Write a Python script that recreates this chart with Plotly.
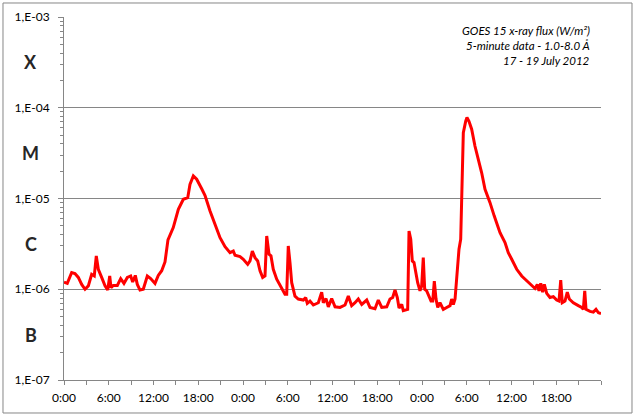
import plotly.graph_objects as go

# GOES 15 X-ray flux (1.0-8.0 Å), 17-19 July 2012; time in hours since 17 July 00:00
hours = [
    0.0, 0.44, 1.03, 1.47, 1.92, 2.37, 2.82, 3.26, 3.71, 4.06,
    4.33, 4.6, 5.05, 5.5, 5.86, 6.13, 6.3, 6.61, 7.15, 7.6,
    8.04, 8.49, 8.94, 9.21, 9.56, 9.83, 10.19, 10.63, 11.17, 11.62,
    12.2, 12.64, 13.1, 13.54, 13.94, 14.21, 14.65, 15.33, 16.0, 16.59,
    16.89, 17.34, 17.79, 18.46, 18.91, 19.58, 20.25, 20.92, 21.59, 22.26,
    22.7, 22.93, 23.6, 24.04, 24.63, 24.94, 25.25, 25.61, 25.97, 26.28,
    26.64, 26.95, 27.18, 27.49, 27.75, 28.06, 28.52, 29.19, 29.63, 29.86,
    30.07, 30.3, 30.53, 30.97, 31.41, 32.09, 32.41, 32.62, 32.98, 33.43,
    34.1, 34.55, 34.77, 35.13, 35.44, 35.89, 36.34, 37.01, 37.68, 38.12,
    38.57, 39.02, 39.46, 39.92, 40.59, 41.03, 41.7, 42.14, 42.6, 43.27,
    43.71, 44.07, 44.38, 44.69, 44.92, 45.28, 45.49, 46.08, 46.26, 46.49,
    46.7, 46.93, 47.16, 47.42, 47.73, 47.96, 48.17, 48.36, 48.63, 48.85,
    49.21, 49.44, 49.65, 49.88, 50.11, 50.41, 50.86, 51.31, 51.76, 51.98,
    52.2, 52.43, 52.65, 52.96, 53.19, 53.32, 53.46, 53.54, 53.86, 54.03,
    54.3, 54.66, 55.1, 55.55, 56.0, 56.45, 57.12, 57.69, 58.46, 59.13,
    59.57, 60.03, 60.7, 61.37, 62.04, 62.71, 63.15, 63.46, 63.69, 63.92,
    64.18, 64.4, 64.72, 65.16, 65.61, 66.06, 66.37, 66.6, 66.81, 67.17,
    67.48, 67.75, 68.29, 68.96, 69.41, 69.63, 69.82, 69.99, 70.53, 70.97,
    71.33, 71.66, 72.0,
]

flux = [
    1.2e-6, 1.16e-6, 1.53e-6, 1.49e-6, 1.35e-6, 1.13e-6, 1.0e-6, 1.09e-6, 1.46e-6, 1.4e-6,
    2.33e-6, 1.66e-6, 1.35e-6, 1.09e-6, 0.98e-6, 1.4e-6, 1.04e-6, 1.1e-6, 1.1e-6, 1.31e-6,
    1.16e-6, 1.35e-6, 1.4e-6, 1.2e-6, 1.42e-6, 1.13e-6, 0.98e-6, 1.0e-6, 1.4e-6, 1.31e-6,
    1.16e-6, 1.42e-6, 1.6e-6, 2.0e-6, 3.5e-6, 4.0e-6, 4.78e-6, 7.6e-6, 9.8e-6, 1.02e-5,
    1.43e-5, 1.77e-5, 1.63e-5, 1.28e-5, 1.08e-5, 7.3e-6, 5.2e-6, 3.7e-6, 2.95e-6, 2.53e-6,
    2.63e-6, 2.37e-6, 2.29e-6, 2.14e-6, 1.88e-6, 2.05e-6, 2.63e-6, 2.23e-6, 2.05e-6, 1.6e-6,
    1.35e-6, 1.4e-6, 3.86e-6, 2.43e-6, 2.33e-6, 1.66e-6, 1.29e-6, 1.0e-6, 0.88e-6, 0.88e-6,
    3.0e-6, 1.97e-6, 1.18e-6, 0.84e-6, 0.78e-6, 0.76e-6, 0.81e-6, 0.7e-6, 0.74e-6, 0.67e-6,
    0.71e-6, 0.93e-6, 0.71e-6, 0.79e-6, 0.64e-6, 0.79e-6, 0.64e-6, 0.63e-6, 0.67e-6, 0.84e-6,
    0.66e-6, 0.71e-6, 0.78e-6, 0.68e-6, 0.76e-6, 0.63e-6, 0.61e-6, 0.76e-6, 0.63e-6, 0.64e-6,
    0.78e-6, 0.81e-6, 0.98e-6, 0.81e-6, 0.62e-6, 0.68e-6, 0.58e-6, 0.6e-6, 4.38e-6, 3.56e-6,
    2.05e-6, 1.97e-6, 1.46e-6, 1.18e-6, 0.96e-6, 1.09e-6, 2.23e-6, 1.0e-6, 0.96e-6, 0.88e-6,
    0.74e-6, 0.74e-6, 1.23e-6, 0.78e-6, 0.63e-6, 0.71e-6, 0.6e-6, 0.63e-6, 0.66e-6, 0.78e-6,
    0.68e-6, 0.78e-6, 1.29e-6, 2.76e-6, 3.56e-6, 9.8e-6, 3.48e-5, 5.3e-5, 7.1e-5, 7.8e-5,
    7.1e-5, 5.8e-5, 3.79e-5, 2.69e-5, 1.92e-5, 1.26e-5, 9.0e-6, 6.4e-6, 4.2e-6, 3.27e-6,
    2.53e-6, 2.14e-6, 1.66e-6, 1.4e-6, 1.23e-6, 1.09e-6, 1.02e-6, 1.13e-6, 0.96e-6, 1.16e-6,
    0.93e-6, 1.13e-6, 0.9e-6, 0.81e-6, 0.83e-6, 0.76e-6, 0.74e-6, 1.26e-6, 0.71e-6, 0.74e-6,
    0.93e-6, 0.78e-6, 0.71e-6, 0.66e-6, 0.63e-6, 0.6e-6, 0.96e-6, 0.6e-6, 0.57e-6, 0.56e-6,
    0.6e-6, 0.55e-6, 0.54e-6,
]

x_tick_hours = [0, 6, 12, 18, 24, 30, 36, 42, 48, 54, 60, 66]
x_tick_labels = ["0:00", "6:00", "12:00", "18:00", "0:00", "6:00",
                 "12:00", "18:00", "0:00", "6:00", "12:00", "18:00"]
x_minor_hours = [3, 9, 15, 21, 27, 33, 39, 45, 51, 57, 63, 69, 72]

y_tick_vals = [1e-7, 1e-6, 1e-5, 1e-4, 1e-3]
y_tick_text = ["1,E-07", "1,E-06", "1,E-05", "1,E-04", "1,E-03"]
y_grid_vals = [1e-6, 1e-5, 1e-4]
flare_classes = ["B", "C", "M", "X"]

title_lines = ["GOES 15 x-ray flux (W/m²)", "5-minute data - 1.0-8.0 Å", "17 - 19 July 2012"]

AXIS_GRAY = "#868686"
FONT = "Lato"

y_minor = [m * 10.0 ** e for e in range(-7, -3) for m in range(2, 10)]

fig = go.Figure()
fig.add_trace(go.Scatter(
    x=hours, y=flux, mode="lines",
    line=dict(color="#FF0000", width=3),
    showlegend=False, hoverinfo="skip",
))
# helper trace so the grid-only overlay axis exists
fig.add_trace(go.Scatter(
    x=hours[:1], y=flux[:1], yaxis="y2", mode="markers",
    marker=dict(opacity=0), showlegend=False, hoverinfo="skip",
))

fig.update_layout(
    width=635, height=418, autosize=False,
    margin=dict(l=64, r=34, t=17, b=38, autoexpand=False),
    paper_bgcolor="white", plot_bgcolor="white",
    font=dict(family=FONT, size=12, color="black"),
    xaxis=dict(
        range=[0, 72], showgrid=False, zeroline=False, automargin=False,
        showline=True, linecolor=AXIS_GRAY, linewidth=1,
        tickmode="array", tickvals=x_tick_hours, ticktext=x_tick_labels,
        ticks="outside", ticklen=4, tickcolor=AXIS_GRAY, tickwidth=1,
        minor=dict(tickmode="array", tickvals=x_minor_hours, ticks="outside",
                   ticklen=4, tickcolor=AXIS_GRAY, tickwidth=1, showgrid=False),
        tickfont=dict(family=FONT, size=12, color="black"),
        ticklabelstandoff=3,
    ),
    yaxis=dict(
        type="log", range=[-7, -3], showgrid=False, zeroline=False, automargin=False,
        showline=True, linecolor=AXIS_GRAY, linewidth=1,
        tickmode="array", tickvals=y_tick_vals, ticktext=y_tick_text,
        ticks="outside", ticklen=5, tickcolor=AXIS_GRAY, tickwidth=1,
        minor=dict(tickmode="array", tickvals=y_minor, ticks="outside",
                   ticklen=3, tickcolor=AXIS_GRAY, tickwidth=1, showgrid=False),
        tickfont=dict(family=FONT, size=12, color="black"),
        ticklabelstandoff=6,
    ),
    yaxis2=dict(
        type="log", range=[-7, -3], overlaying="y", side="left", automargin=False,
        showgrid=True, gridcolor=AXIS_GRAY, gridwidth=1,
        tickmode="array", tickvals=y_grid_vals,
        showticklabels=False, ticks="", showline=False, zeroline=False,
    ),
)

# flare class letters, centred in each decade
for i, cls in enumerate(flare_classes):
    fig.add_annotation(
        xref="paper", yref="paper", x=-0.0615, y=0.125 + 0.25 * i,
        text=f"<b>{cls}</b>", showarrow=False, xanchor="center", yanchor="middle",
        font=dict(family=FONT, size=18, color="#262626"),
    )

# caption at top right
for i, line in enumerate(title_lines):
    fig.add_annotation(
        xref="paper", yref="paper", x=0.983, y=0.962 - 0.0405 * i,
        text=f"<i>{line}</i>", showarrow=False, xanchor="right", yanchor="middle",
        font=dict(family=FONT, size=11.5, color="black"),
    )

# chart-area border
fig.add_shape(
    type="rect", xref="paper", yref="paper",
    x0=-0.1136, x1=1.0577, y0=-0.0909, y1=1.0386,
    line=dict(color=AXIS_GRAY, width=1), fillcolor="rgba(0,0,0,0)", layer="below",
)

fig.write_html("out.html", config={"displayModeBar": False, "staticPlot": True},
               post_script="document.body.style.margin='0';")
